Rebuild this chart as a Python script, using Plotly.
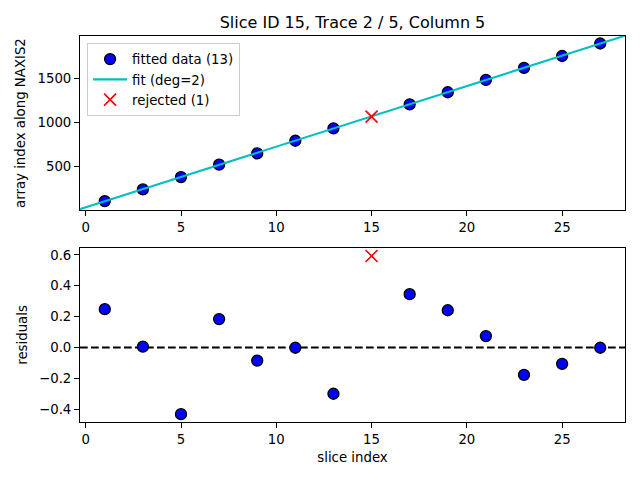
import numpy as np
import plotly.graph_objects as go

# slice index / position along NAXIS2
slice_fit = [1, 3, 5, 7, 9, 11, 13, 17, 19, 21, 23, 25, 27]
y_fit = [112, 244, 383, 523, 651, 794, 934, 1206, 1342, 1481, 1617, 1752, 1893]
resid_fit = [0.248, 0.005, -0.432, 0.184, -0.085, -0.002, -0.30,
             0.345, 0.241, 0.074, -0.178, -0.106, -0.002]

slice_rej = [15]
y_rej = [1066]
resid_rej = [0.593]

xlim = [-0.3, 28.3]

# quadratic fit through the fitted points, drawn across the axis range
coef = np.polyfit(slice_fit, y_fit, 2)
x_line = np.linspace(xlim[0], xlim[1], 100)
y_line = np.polyval(coef, x_line)

FONT = "DejaVu Sans"
blue_marker = dict(color="blue", size=11, line=dict(color="black", width=1.3))
red_marker = dict(color="red", size=12, symbol="x-thin", line=dict(color="red", width=1.6))

fig = go.Figure()
fig.add_trace(go.Scatter(x=slice_fit, y=y_fit, mode="markers", marker=blue_marker,
                         name="fitted data (13)", xaxis="x", yaxis="y"))
fig.add_trace(go.Scatter(x=x_line, y=y_line, mode="lines",
                         line=dict(color="#00BFBF", width=2.1),
                         name="fit (deg=2)", xaxis="x", yaxis="y"))
fig.add_trace(go.Scatter(x=slice_rej, y=y_rej, mode="markers", marker=red_marker,
                         name="rejected (1)", xaxis="x", yaxis="y"))

fig.add_trace(go.Scatter(x=xlim, y=[0, 0], mode="lines",
                         line=dict(color="black", width=2.1, dash="7.7px,3.3px"),
                         showlegend=False, xaxis="x2", yaxis="y2"))
fig.add_trace(go.Scatter(x=slice_fit, y=resid_fit, mode="markers", marker=blue_marker,
                         showlegend=False, xaxis="x2", yaxis="y2"))
fig.add_trace(go.Scatter(x=slice_rej, y=resid_rej, mode="markers", marker=red_marker,
                         showlegend=False, xaxis="x2", yaxis="y2"))

axis_style = dict(showline=True, linecolor="black", linewidth=1, mirror=True,
                  ticks="outside", ticklen=5, tickcolor="black", showgrid=False,
                  zeroline=False, automargin=False,
                  tickfont=dict(family=FONT, size=13.3, color="black"))

# the page adds an 8px body margin, so the margins are shifted by that amount
fig.update_layout(
    width=640, height=480,
    paper_bgcolor="white", plot_bgcolor="white",
    margin=dict(l=72, r=23, t=28, b=66),
    font=dict(family=FONT, size=13.3, color="black"),
    title=dict(text="Slice ID 15, Trace 2 / 5, Column 5", x=0.5, xref="paper",
               xanchor="center", y=1 - 14 / 480, yref="container", yanchor="middle",
               automargin=False,
               font=dict(family=FONT, size=16, color="black")),
    xaxis=dict(axis_style, domain=[0, 1], anchor="y", range=xlim, dtick=5),
    yaxis=dict(axis_style, domain=[0.549, 1], anchor="x", range=[10, 1978], dtick=500,
               title=dict(text="array index along NAXIS2", standoff=8,
                          font=dict(family=FONT, size=13.3))),
    xaxis2=dict(axis_style, domain=[0, 1], anchor="y2", range=xlim, dtick=5,
                title=dict(text="slice index", standoff=6,
                           font=dict(family=FONT, size=13.3))),
    yaxis2=dict(axis_style, domain=[0, 0.451], anchor="x2", range=[-0.483, 0.645],
                dtick=0.2, tickformat=".1f",
                title=dict(text="residuals", standoff=8,
                           font=dict(family=FONT, size=13.3))),
    legend=dict(x=0.013, y=0.982, xanchor="left", yanchor="top",
                bgcolor="rgba(255,255,255,0.8)", bordercolor="#cccccc", borderwidth=1,
                itemwidth=34,
                font=dict(family=FONT, size=13.3), tracegroupgap=0),
)

fig.write_html("out.html")
